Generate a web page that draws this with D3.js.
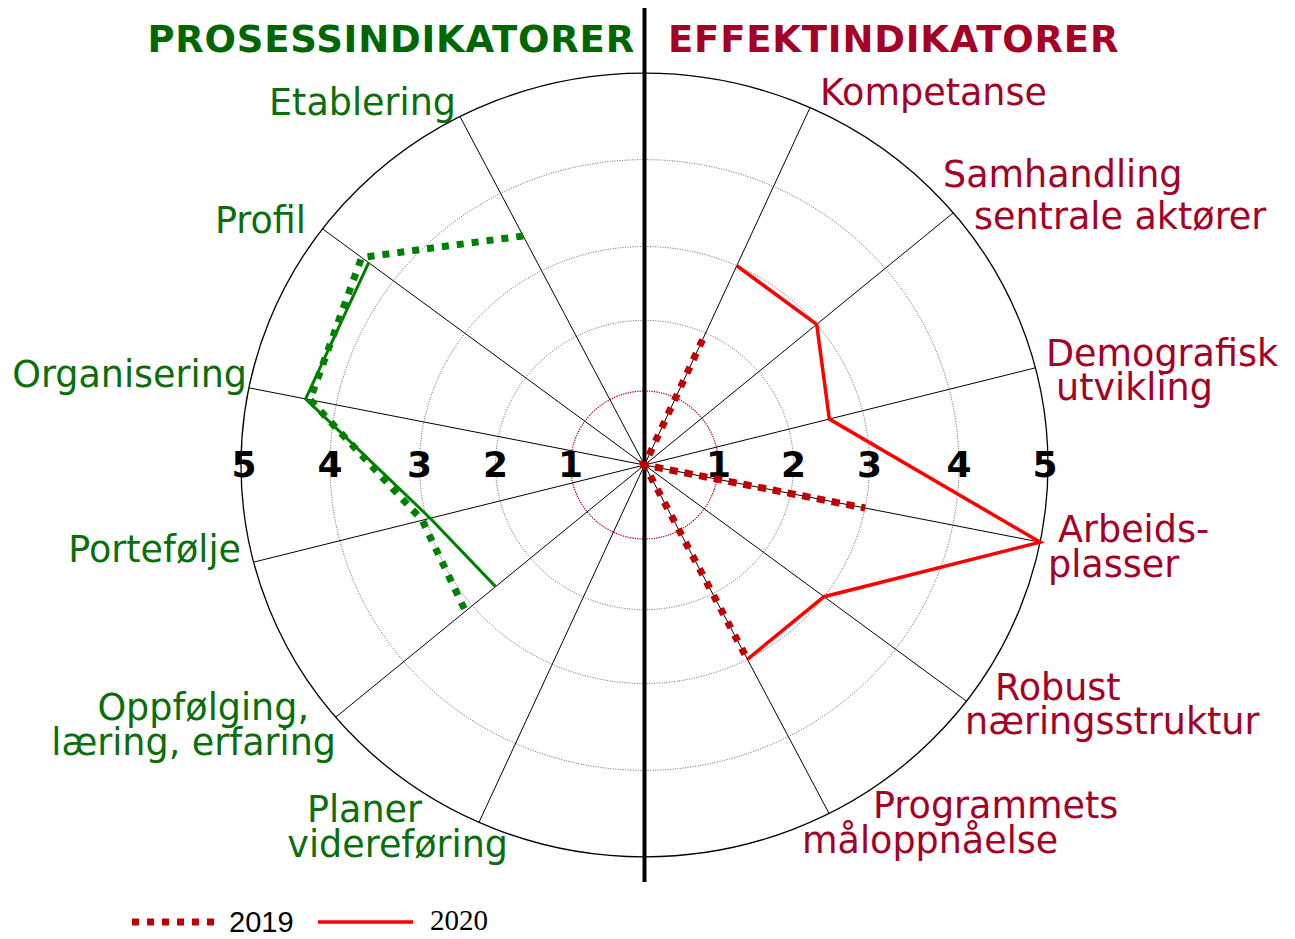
<!DOCTYPE html>
<html>
<head>
<meta charset="utf-8">
<script src="https://cdn.jsdelivr.net/npm/d3@7"></script>
<style>
    body { margin: 0; background: #fff; }
    svg { display: block; }
</style>
</head>
<body>
<script>
// kategorier, hoyre halvdel (effekt) og venstre halvdel (prosess), ovenfra og ned
var effektNavn = ["Kompetanse", "Samhandling\nsentrale aktører", "Demografisk\nutvikling", "Arbeids-\nplasser", "Robust\nnæringsstruktur", "Programmets\nmåloppnåelse"];
var prosessNavn = ["Etablering", "Profil", "Organisering", "Portefølje", "Oppfølging,\nlæring, erfaring", "Planer\nvidereføring"];

// verdier lest av figuren (null = ingen verdi)
var effekt2019 = [1.9, 0, 0, 3, 0, 3];
var effekt2020 = [3, 3, 2.55, 5, 3, 3];
var prosess2019 = [3.45, 4.45, 4.3, 3.05, 3.1, null];
var prosess2020 = [null, 4.35, 4.35, 2.95, 2.6, null];

var ringTicks = [1, 2, 3, 4, 5];
var years = ["2019", "2020"];

var width = 1295, height = 939;
var cx = 644.5, cy = 465;
var ky = 0.971;                       // figuren er litt sammentrykt vertikalt
var rot = -1.5 * Math.PI / 180;

// radien er ikke helt lineaer i originalen
var rScale = d3.scaleLinear().domain([0, 1, 2, 3, 4, 5]).range([0, 74, 149, 225, 314.5, 403.5]);
var aScale = d3.scaleLinear().domain([0, 14]).range([0, 2 * Math.PI]);

var green = "#008000", greenText = "#0a6e0a", greenTitle = "#006600";
var red2019 = "#c00000", red2020 = "#ff0000", redText = "#a50026";

// plassering av etikettene (relativt til sentrum)
var effektLabelPos = [[[175.5, -360]], [[298.5, -278], [329.5, -236]], [[401.5, -99], [411.5, -65]],
    [[413.5, 77], [403.5, 112]], [[350.5, 235], [320.5, 269]], [[228.5, 353], [157.5, 388]]];
var prosessLabelPos = [[[-188.5, -350]], [[-338.5, -232]], [[-397.5, -78]], [[-403.5, 97]],
    [[-335.5, 255], [-308.5, 290]], [[-222.5, 357], [-136.5, 392]]];

function pt(idx, v) {
    var a = aScale(idx) + rot;
    var r = rScale(v);
    return [cx + r * Math.sin(a), cy - r * ky * Math.cos(a)];
}

var svg = d3.select("body").append("svg")
    .attr("width", width)
    .attr("height", height)
    .style("font-family", "'DejaVu Sans', Verdana, sans-serif");

// ringer
svg.selectAll("ellipse.ring").data(ringTicks.slice(1, 4)).enter()
    .append("ellipse").classed("ring", true)
    .attr("cx", cx).attr("cy", cy)
    .attr("rx", function (d) { return rScale(d); })
    .attr("ry", function (d) { return rScale(d) * ky; })
    .style("fill", "none")
    .style("stroke", "#333")
    .style("stroke-width", 0.8)
    .style("stroke-dasharray", "1,1.5");
svg.append("ellipse")
    .attr("cx", cx).attr("cy", cy)
    .attr("rx", rScale(1)).attr("ry", rScale(1))
    .style("fill", "none")
    .style("stroke", "#a50026")
    .style("stroke-width", 1.3)
    .style("stroke-dasharray", "1.2,1.2");

// eiker
var spokes = d3.range(6).map(function (i) { return i + 1; })
    .concat(d3.range(6).map(function (i) { return 13 - i; }));
svg.selectAll("line.spoke").data(spokes).enter()
    .append("line").classed("spoke", true)
    .attr("x1", cx).attr("y1", cy)
    .attr("x2", function (d) { return pt(d, 5)[0]; })
    .attr("y2", function (d) { return pt(d, 5)[1]; })
    .style("stroke", "#000")
    .style("stroke-width", 1);

svg.append("ellipse")
    .attr("cx", cx).attr("cy", cy)
    .attr("rx", rScale(5)).attr("ry", rScale(5) * ky)
    .style("fill", "none")
    .style("stroke", "#000")
    .style("stroke-width", 1.3);

svg.append("line")
    .attr("x1", cx).attr("x2", cx)
    .attr("y1", 8).attr("y2", 882)
    .style("stroke", "#000")
    .style("stroke-width", 4);

// tall paa aksen
var tickData = ringTicks.map(function (t) { return { t: t, s: 1 }; })
    .concat(ringTicks.map(function (t) { return { t: t, s: -1 }; }));
svg.selectAll("text.tick").data(tickData).enter()
    .append("text").classed("tick", true)
    .attr("x", function (d) { return cx + d.s * rScale(d.t) + (d.t == 5 ? d.s * -3 : 0); })
    .attr("y", cy + 12)
    .attr("text-anchor", "middle")
    .style("font-size", "36px")
    .style("font-weight", "bold")
    .text(function (d) { return d.t; });

// dataserier
var line = d3.line()
    .defined(function (d) { return d.v != null; })
    .x(function (d) { return pt(d.idx, d.v)[0]; })
    .y(function (d) { return pt(d.idx, d.v)[1]; });

function serie(values, side) {
    return values.map(function (v, i) {
        return { v: v, idx: side > 0 ? i + 1 : 13 - i };
    });
}

var series = [
    { data: serie(prosess2020, -1), color: green, w: 3, dash: null },
    { data: serie(prosess2019, -1), color: green, w: 7, dash: "7,8" },
    { data: serie(effekt2020, 1), color: red2020, w: 3.5, dash: null },
    { data: serie(effekt2019, 1), color: red2019, w: 7, dash: "7,8" }
];
svg.selectAll("path.serie").data(series).enter()
    .append("path").classed("serie", true)
    .attr("d", function (d) { return line(d.data); })
    .style("fill", "none")
    .style("stroke", function (d) { return d.color; })
    .style("stroke-width", function (d) { return d.w; })
    .style("stroke-dasharray", function (d) { return d.dash; })
    .style("stroke-linejoin", "miter");

// etiketter
function labels(names, pos, anchor, color) {
    names.forEach(function (n, i) {
        n.split("\n").forEach(function (l, j) {
            svg.append("text")
                .attr("x", cx + pos[i][j][0])
                .attr("y", cy + pos[i][j][1])
                .attr("text-anchor", anchor)
                .style("font-size", "36.5px")
                .style("fill", color)
                .text(l);
        });
    });
}
labels(effektNavn, effektLabelPos, "start", redText);
labels(prosessNavn, prosessLabelPos, "end", greenText);

// titler
svg.append("text")
    .attr("x", 635).attr("y", 52)
    .attr("text-anchor", "end")
    .style("font-size", "37px")
    .style("font-weight", "bold")
    .style("letter-spacing", "0.8px")
    .style("fill", greenTitle)
    .text("PROSESSINDIKATORER");
svg.append("text")
    .attr("x", 668).attr("y", 52)
    .style("font-size", "37px")
    .style("font-weight", "bold")
    .style("letter-spacing", "0.8px")
    .style("fill", "#a50026")
    .text("EFFEKTINDIKATORER");

// tegnforklaring
var legend = svg.append("g");
legend.append("line")
    .attr("x1", 132).attr("x2", 215).attr("y1", 922).attr("y2", 922)
    .style("stroke", red2019).style("stroke-width", 7).style("stroke-dasharray", "7,8");
legend.append("text")
    .attr("x", 229).attr("y", 932)
    .style("font-family", "'Liberation Sans', Arial, sans-serif")
    .style("font-size", "29px")
    .text(years[0]);
legend.append("line")
    .attr("x1", 318).attr("x2", 413).attr("y1", 922).attr("y2", 922)
    .style("stroke", red2020).style("stroke-width", 3.5);
legend.append("text")
    .attr("x", 430).attr("y", 930)
    .style("font-family", "'Liberation Serif', 'Times New Roman', serif")
    .style("font-size", "29px")
    .text(years[1]);
</script>
</body>
</html>
